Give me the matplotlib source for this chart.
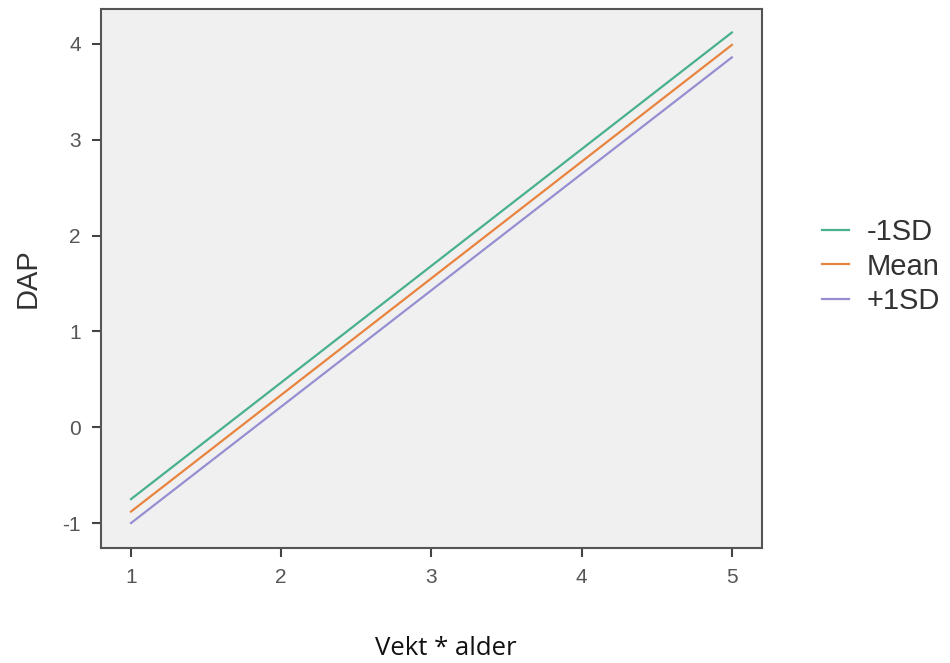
import matplotlib.pyplot as plt

plt.rcParams["font.family"] = ["Liberation Sans", "DejaVu Sans"]
plt.rcParams["axes.unicode_minus"] = False

# simple slopes: DAP vs Vekt * alder at -1SD / Mean / +1SD
x = [1, 5]
minus_sd = [-0.75, 4.12]
mean = [-0.88, 3.99]
plus_sd = [-1.00, 3.86]
labels = ["-1SD", "Mean", "+1SD"]
colors = ["#48b18b", "#e8843f", "#958fd2"]

x_ticks = [1, 2, 3, 4, 5]
y_ticks = [-1, 0, 1, 2, 3, 4]

fig = plt.figure(figsize=(9.5, 6.63), dpi=100)
ax = fig.add_axes([0.1063, 0.1735, 0.6957, 0.8129])
ax.set_facecolor("#f0f0f0")

for ys, lab, c in zip([minus_sd, mean, plus_sd], labels, colors):
    ax.plot(x, ys, color=c, linewidth=1.6, label=lab)

ax.set_xlim(0.8, 5.2)
ax.set_ylim(-1.26, 4.365)
ax.set_xticks(x_ticks)
ax.set_yticks(y_ticks)
ax.tick_params(axis="both", direction="out", length=6.5, width=1.5,
               color="#444444", labelcolor="#555555", labelsize=15, pad=8)
for s in ax.spines.values():
    s.set_color("#555555")
    s.set_linewidth(1.5)

ax.set_ylabel("DAP", fontsize=21, color="#333333", labelpad=15)
fig.text(0.469, 0.0226, "Vekt * alder", fontsize=18.5, family="Open Sans",
         ha="center", va="center", color="#111111")

ax.legend(loc="center left", bbox_to_anchor=(0.865, 0.598),
          bbox_transform=fig.transFigure, frameon=False, borderpad=0,
          borderaxespad=0, fontsize=21, handlelength=0.95,
          handletextpad=0.6, labelspacing=0.22, labelcolor="#333333")

fig.savefig("out.png", dpi=100)
